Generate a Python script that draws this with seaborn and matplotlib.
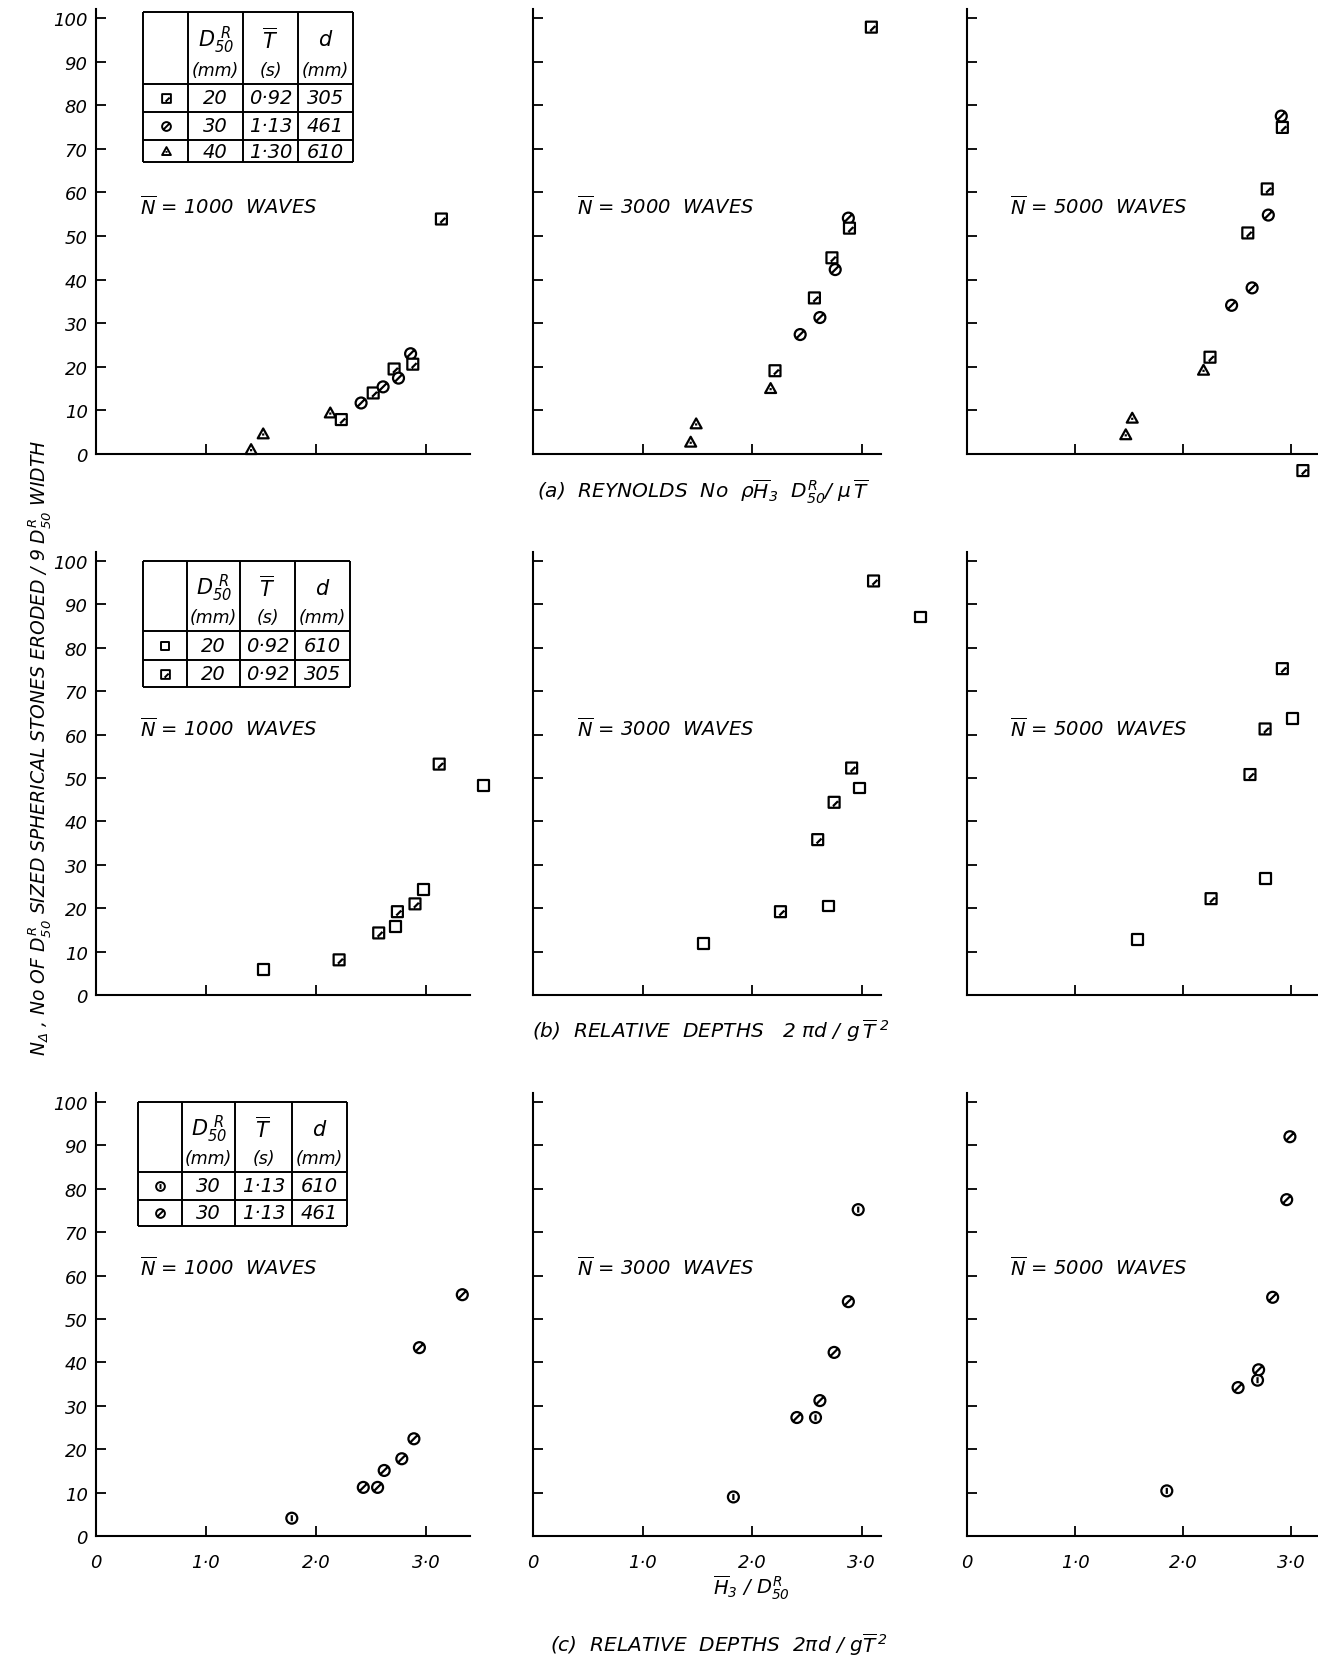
import numpy as np
import pandas as pd
import seaborn as sns
import matplotlib.pyplot as plt
from matplotlib.path import Path
from matplotlib.markers import MarkerStyle

# series (stone size D50 mm, wave period s, depth mm)
sq305 = '20 / 0.92 / 305'
ci461 = '30 / 1.13 / 461'
tr610 = '40 / 1.30 / 610'
sq610 = '20 / 0.92 / 610'
ci610 = '30 / 1.13 / 610'

# (a) Reynolds number
a1000_x = [1.41, 1.52, 2.13, 2.23, 2.41, 2.52, 2.61, 2.71, 2.75, 2.86, 2.88, 3.14]
a1000_y = [1.0, 4.6, 9.4, 7.9, 11.7, 14.0, 15.4, 19.5, 17.4, 23.0, 20.6, 53.9]
a1000_s = [tr610, tr610, tr610, sq305, ci461, sq305, ci461, sq305, ci461, ci461, sq305, sq305]

a3000_x = [3.09, 2.88, 2.89, 2.73, 2.76, 2.57, 2.62, 2.44, 2.21, 2.17, 1.49, 1.44]
a3000_y = [97.9, 54.1, 51.8, 45.0, 42.3, 35.8, 31.3, 27.4, 19.1, 15.0, 6.9, 2.7]
a3000_s = [sq305, ci461, sq305, sq305, ci461, sq305, ci461, ci461, sq305, tr610, tr610, tr610]

a5000_x = [2.91, 2.92, 2.78, 2.79, 2.60, 2.64, 2.45, 2.25, 2.19, 1.53, 1.47, 3.11]
a5000_y = [77.5, 74.9, 60.8, 54.8, 50.7, 38.1, 34.1, 22.2, 19.2, 8.2, 4.4, -3.8]
a5000_s = [ci461, sq305, sq305, ci461, sq305, ci461, ci461, sq305, tr610, tr610, tr610, sq305]

# (b) relative depths
b1000_x = [1.52, 2.21, 2.57, 2.72, 2.74, 2.90, 2.98, 3.12, 3.52]
b1000_y = [5.8, 8.1, 14.3, 15.7, 19.2, 21.0, 24.3, 53.2, 48.2]
b1000_s = [sq610, sq305, sq305, sq610, sq305, sq305, sq610, sq305, sq610]

b3000_x = [3.11, 3.54, 2.91, 2.98, 2.75, 2.60, 2.70, 2.26, 1.56]
b3000_y = [95.4, 87.1, 52.3, 47.7, 44.4, 35.8, 20.5, 19.2, 11.8]
b3000_s = [sq305, sq610, sq305, sq610, sq305, sq305, sq610, sq305, sq610]

b5000_x = [2.92, 3.01, 2.76, 2.62, 2.76, 2.26, 1.58]
b5000_y = [75.2, 63.8, 61.3, 50.8, 26.8, 22.2, 12.8]
b5000_s = [sq305, sq610, sq305, sq305, sq610, sq305, sq610]

# (c) relative depths, 30 mm stones
c1000_x = [1.78, 2.43, 2.56, 2.62, 2.78, 2.89, 2.94, 3.33]
c1000_y = [4.1, 11.2, 11.2, 15.1, 17.8, 22.4, 43.4, 55.6]
c1000_s = [ci610, ci461, ci461, ci461, ci461, ci461, ci461, ci461]

c3000_x = [1.83, 2.41, 2.58, 2.62, 2.75, 2.88, 2.97]
c3000_y = [9.0, 27.3, 27.3, 31.2, 42.3, 54.0, 75.2]
c3000_s = [ci610, ci461, ci610, ci461, ci461, ci461, ci610]

c5000_x = [1.85, 2.51, 2.69, 2.70, 2.83, 2.96, 2.99]
c5000_y = [10.4, 34.2, 35.9, 38.3, 55.0, 77.5, 92.0]
c5000_s = [ci610, ci461, ci610, ci461, ci461, ci461, ci461]

waves = ['1000', '3000', '5000']
x_ticks = [0, 1, 2, 3]
x_ticklabels = ['0', '1·0', '2·0', '3·0']
y_ticks = list(range(0, 101, 10))

table_a = [['20', '0·92', '305'], ['30', '1·13', '461'], ['40', '1·30', '610']]
table_a_keys = [sq305, ci461, tr610]
table_b = [['20', '0·92', '610'], ['20', '0·92', '305']]
table_b_keys = [sq610, sq305]
table_c = [['30', '1·13', '610'], ['30', '1·13', '461']]
table_c_keys = [ci610, ci461]
table_head = [r'$D_{50}^{\ R}$', r'$\overline{T}$', r'$d$']
table_units = ['(mm)', '(s)', '(mm)']

# marker shapes
MV, LN, CL = Path.MOVETO, Path.LINETO, Path.CLOSEPOLY
square = Path([(-1, -1), (1, -1), (1, 1), (-1, 1), (-1, -1)], [MV, LN, LN, LN, CL])
triangle = Path([(0, 1), (-1, -0.8), (1, -0.8), (0, 1)], [MV, LN, LN, CL])
circle = Path.unit_circle()


def with_line(base, p0, p1):
    return Path.make_compound_path(base, Path([p0, p1], [MV, LN]))


markers = {
    sq305: with_line(square, (-0.2, -0.7), (0.7, 0.2)),
    sq610: square,
    ci461: with_line(circle, (-0.6, -0.6), (0.6, 0.6)),
    ci610: with_line(circle, (0.0, -0.55), (0.0, 0.55)),
    tr610: with_line(triangle, (0.0, -0.3), (0.0, 0.1)),
}

sns.set_style('ticks', {'axes.edgecolor': 'black', 'xtick.color': 'black',
                        'ytick.color': 'black', 'text.color': 'black'})
plt.rcParams['font.family'] = ['DejaVu Sans']
plt.rcParams['font.style'] = 'italic'
plt.rcParams['mathtext.fontset'] = 'dejavusans'
plt.rcParams['mathtext.default'] = 'it'

W, H = 1318, 1658
fig = plt.figure(figsize=(W / 100, H / 100), dpi=100)

rows_y0 = [455, 996, 1537]
rows_unit = [4.36, 4.34, 4.34]
cols_x0 = [96, 533, 967]
cols_unit = [110, 109.5, 108]
cols_xmax = [3.4, 3.18, 3.25]
wave_y = [57, 61.5, 62]

panels = [
    [(a1000_x, a1000_y, a1000_s), (a3000_x, a3000_y, a3000_s), (a5000_x, a5000_y, a5000_s)],
    [(b1000_x, b1000_y, b1000_s), (b3000_x, b3000_y, b3000_s), (b5000_x, b5000_y, b5000_s)],
    [(c1000_x, c1000_y, c1000_s), (c3000_x, c3000_y, c3000_s), (c5000_x, c5000_y, c5000_s)],
]

for r in range(3):
    for c in range(3):
        y0 = rows_y0[r]
        top = y0 - 102 * rows_unit[r]
        width = cols_xmax[c] * cols_unit[c]
        ax = fig.add_axes([cols_x0[c] / W, 1 - y0 / H, width / W, (y0 - top) / H])
        xs, ys, ss = panels[r][c]
        df = pd.DataFrame({'x': xs, 'y': ys, 'set': ss})
        sns.scatterplot(data=df, x='x', y='y', style='set', markers=markers, ax=ax,
                        s=62, color='black', facecolor='white', edgecolor='black',
                        linewidth=1.6, legend=False, clip_on=False, zorder=3)
        ax.set_xlim(0, cols_xmax[c])
        ax.set_ylim(0, 102)
        ax.set_xticks(x_ticks)
        ax.set_yticks(y_ticks)
        ax.set_xlabel('')
        ax.set_ylabel('')
        ax.tick_params(direction='in', length=7, width=1.3, labelsize=13)
        for sp in ['top', 'right']:
            ax.spines[sp].set_visible(False)
        for sp in ['left', 'bottom']:
            ax.spines[sp].set_linewidth(1.5)
        if c == 0:
            ax.set_yticklabels([str(v) for v in y_ticks])
            ax.tick_params(axis='y', pad=6)
        else:
            ax.tick_params(labelleft=False)
        if r == 2:
            ax.set_xticklabels(x_ticklabels)
            ax.tick_params(axis='x', pad=12)
        else:
            ax.tick_params(labelbottom=False)
        ax.text(0.40, wave_y[r], r'$\overline{N}$ = ' + waves[c] + '  WAVES',
                fontsize=14, va='center')


def draw_table(x_edges, y_edges, rows, keys):
    tax = fig.add_axes([x_edges[0] / W, 1 - y_edges[-1] / H,
                        (x_edges[-1] - x_edges[0]) / W, (y_edges[-1] - y_edges[0]) / H])
    tax.set_xlim(x_edges[0], x_edges[-1])
    tax.set_ylim(y_edges[-1], y_edges[0])
    tax.axis('off')
    tax.vlines(x_edges, y_edges[0], y_edges[-1], color='black', lw=1.4, clip_on=False)
    tax.hlines(y_edges, x_edges[0], x_edges[-1], color='black', lw=1.4, clip_on=False)
    hh = y_edges[1] - y_edges[0]
    for j in range(3):
        xc = (x_edges[j + 1] + x_edges[j + 2]) / 2
        tax.text(xc, y_edges[0] + 0.38 * hh, table_head[j], fontsize=15, ha='center', va='center')
        tax.text(xc, y_edges[0] + 0.8 * hh, table_units[j], fontsize=12.5, ha='center', va='center')
    for i, (row, key) in enumerate(zip(rows, keys)):
        yc = (y_edges[i + 1] + y_edges[i + 2]) / 2
        tax.scatter([(x_edges[0] + x_edges[1]) / 2], [yc], marker=MarkerStyle(markers[key]),
                    s=40, facecolor='white', edgecolor='black', linewidth=1.4, clip_on=False)
        for j, val in enumerate(row):
            xc = (x_edges[j + 1] + x_edges[j + 2]) / 2
            tax.text(xc, yc, val, fontsize=14, ha='center', va='center')


draw_table([143, 188, 243, 298, 353], [13, 85, 113, 141, 163], table_a, table_a_keys)
draw_table([143, 187, 240, 295, 350], [562, 632, 661, 688], table_b, table_b_keys)
draw_table([138, 182, 235, 292, 347], [1103, 1173, 1201, 1227], table_c, table_c_keys)

fig.text(40 / W, 1 - 748 / H,
         r'$N_{\Delta}$ , No OF $D_{50}^{R}$ SIZED SPHERICAL STONES ERODED / 9 $D_{50}^{R}$ WIDTH',
         rotation=90, fontsize=13.5, ha='center', va='center')
fig.text(703 / W, 1 - 492 / H,
         r'(a)  REYNOLDS  No  $\rho\overline{H}_{3}$  $D_{50}^{R}$/ $\mu\,\overline{T}$',
         fontsize=14.5, ha='center', va='center')
fig.text(711 / W, 1 - 1031 / H,
         r'(b)  RELATIVE  DEPTHS   2 $\pi d\ /\ g\,\overline{T}^{\ 2}$',
         fontsize=14.5, ha='center', va='center')
fig.text(751 / W, 1 - 1588 / H, r'$\overline{H}_{3}$ / $D_{50}^{R}$',
         fontsize=14, ha='center', va='center')
fig.text(719 / W, 1 - 1645 / H,
         r'(c)  RELATIVE  DEPTHS  $2\pi d\ /\ g\overline{T}^{\,2}$',
         fontsize=14.5, ha='center', va='center')

fig.savefig('out.png', dpi=100)
